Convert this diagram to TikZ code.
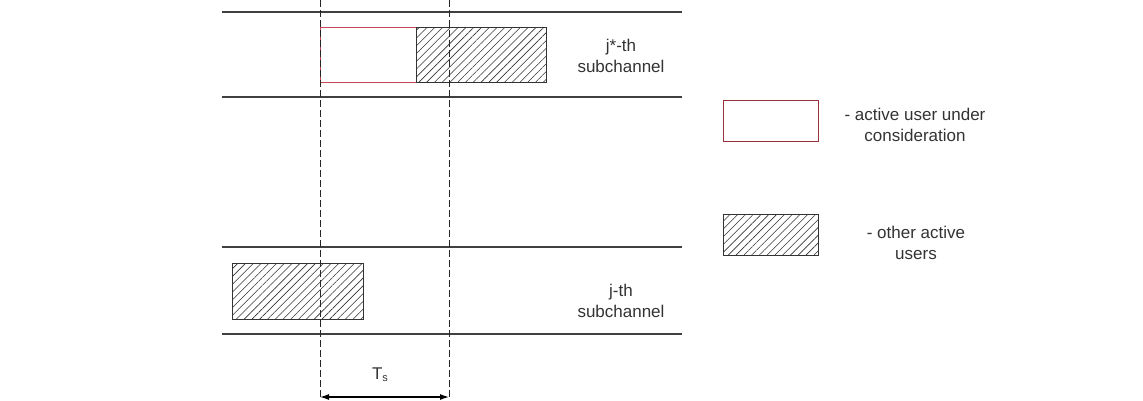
\documentclass[tikz,border=0pt]{standalone}
\usepackage{fontspec}
\setmainfont{Liberation Sans}
\usetikzlibrary{patterns.meta,arrows.meta}
\definecolor{userred}{RGB}{200,70,90}
\definecolor{legred}{RGB}{150,50,60}
\begin{document}
\begin{tikzpicture}[x=1pt,y=-1pt,
  chan/.style={line width=1.4pt, draw=black!75},
  guide/.style={dash pattern=on 7pt off 3pt, line width=0.8pt, draw=black!85},
  userbox/.style={draw=userred, line width=1pt, inner sep=0pt},
  otherbox/.style={draw=black!80, line width=0.8pt, inner sep=0pt,
    pattern={Lines[angle=45,distance=5.5pt,line width=0.6pt]}, pattern color=black!80},
  lbl/.style={font=\fontsize{17}{21}\selectfont, align=center, text=black!80}
]
\useasboundingbox (0,0) rectangle (1143,400);

% subchannel boundaries
\draw[chan] (222,12) -- (682,12);
\draw[chan] (222,97) -- (682,97);
\draw[chan] (222,247) -- (682,247);
\draw[chan] (222,334) -- (682,334);

% boxes
\node[userbox, minimum width=96pt, minimum height=55pt] (ub) at (368,54.5) {};
\node[otherbox, minimum width=130pt, minimum height=55pt] (ob1) at (481,54.5) {};
\node[otherbox, minimum width=131pt, minimum height=56pt] (ob2) at (297.5,291) {};

% legend
\node[userbox, draw=legred, minimum width=95pt, minimum height=41pt] (lu) at (770.5,120.5) {};
\node[otherbox, minimum width=95pt, minimum height=41pt] (lo) at (770.5,234.5) {};
\node[lbl] (lut) at (915,125) {- active user under\\consideration};
\node[lbl] (lot) at (916,243) {- other active\\users};

% channel labels
\node[lbl] (jst) at (621,56) {j*-th\\subchannel};
\node[lbl] (jt) at (621,301) {j-th\\subchannel};

% symbol interval
\coordinate (d1t) at (320,0);
\coordinate (d1b) at (320,400);
\coordinate (d2t) at (449,0);
\coordinate (d2b) at (449,400);
\draw[guide] (d1t) -- (d1b);
\draw[guide] (d2t) -- (d2b);

\coordinate (a1) at (320,397);
\coordinate (a2) at (449,397);
\draw[line width=1.2pt, {Latex[length=9pt,width=6pt]}-{Latex[length=9pt,width=6pt]}] (a1) -- (a2);
\node[lbl] (ts) at (380,375) {T\raisebox{-2pt}{\fontsize{11}{11}\selectfont s}};
\end{tikzpicture}
\end{document}
